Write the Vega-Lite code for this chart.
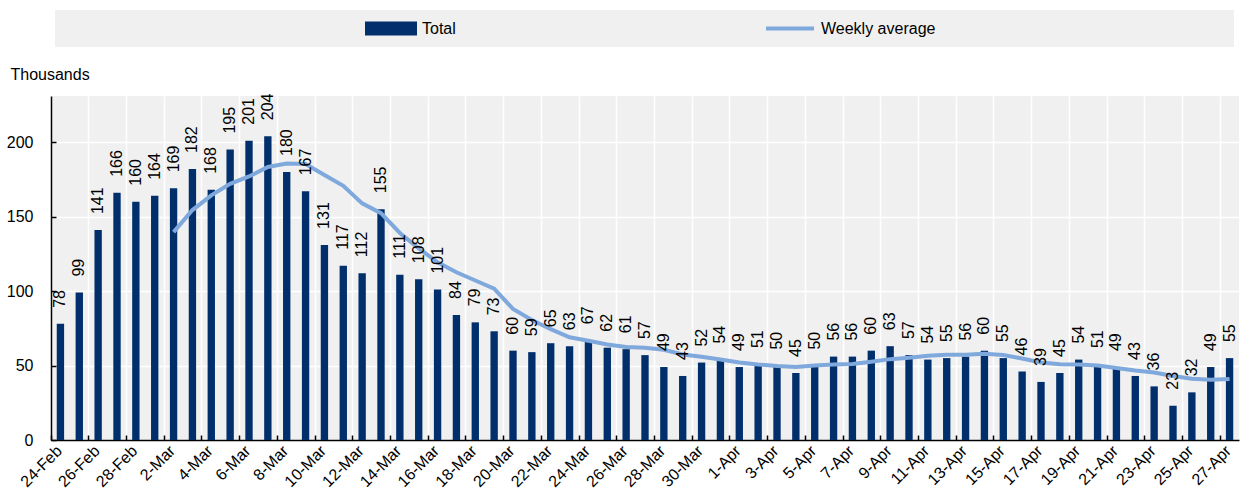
{
  "$schema": "https://vega.github.io/schema/vega-lite/v6.json",
  "width": 1188,
  "height": 344,
  "autosize": {"type": "none"},
  "padding": {"left": 51, "top": 96, "right": 1, "bottom": 53},
  "background": "white",
  "config": {
    "font": "Liberation Sans, Arial, sans-serif",
    "view": {"fill": "#f0f0f0", "stroke": null},
    "axis": {
      "labelFont": "Liberation Sans, Arial, sans-serif",
      "labelFontSize": 16,
      "labelColor": "#000000",
      "titleFont": "Liberation Sans, Arial, sans-serif",
      "titleFontSize": 16,
      "titleFontWeight": "normal",
      "titleColor": "#000000",
      "domainColor": "#000000",
      "domainWidth": 1.5,
      "tickColor": "#000000",
      "tickWidth": 1.5,
      "gridColor": "#ffffff",
      "gridWidth": 1.5,
      "gridOpacity": 1
    },
    "legend": {
      "labelFont": "Liberation Sans, Arial, sans-serif",
      "labelFontSize": 16,
      "labelColor": "#000000"
    }
  },
  "data": {
    "values": [
      {"date": "24-Feb", "total": 78, "avg": null},
      {"date": "25-Feb", "total": 99, "avg": null},
      {"date": "26-Feb", "total": 141, "avg": null},
      {"date": "27-Feb", "total": 166, "avg": null},
      {"date": "28-Feb", "total": 160, "avg": null},
      {"date": "1-Mar", "total": 164, "avg": null},
      {"date": "2-Mar", "total": 169, "avg": 139.6},
      {"date": "3-Mar", "total": 182, "avg": 154.4},
      {"date": "4-Mar", "total": 168, "avg": 164.3},
      {"date": "5-Mar", "total": 195, "avg": 172.0},
      {"date": "6-Mar", "total": 201, "avg": 177.0},
      {"date": "7-Mar", "total": 204, "avg": 183.3},
      {"date": "8-Mar", "total": 180, "avg": 185.6},
      {"date": "9-Mar", "total": 167, "avg": 185.3},
      {"date": "10-Mar", "total": 131, "avg": 178.0},
      {"date": "11-Mar", "total": 117, "avg": 170.7},
      {"date": "12-Mar", "total": 112, "avg": 158.9},
      {"date": "13-Mar", "total": 155, "avg": 152.3},
      {"date": "14-Mar", "total": 111, "avg": 139.0},
      {"date": "15-Mar", "total": 108, "avg": 128.7},
      {"date": "16-Mar", "total": 101, "avg": 119.3},
      {"date": "17-Mar", "total": 84, "avg": 112.6},
      {"date": "18-Mar", "total": 79, "avg": 107.1},
      {"date": "19-Mar", "total": 73, "avg": 101.6},
      {"date": "20-Mar", "total": 60, "avg": 88.0},
      {"date": "21-Mar", "total": 59, "avg": 80.6},
      {"date": "22-Mar", "total": 65, "avg": 74.4},
      {"date": "23-Mar", "total": 63, "avg": 69.0},
      {"date": "24-Mar", "total": 67, "avg": 66.6},
      {"date": "25-Mar", "total": 62, "avg": 64.1},
      {"date": "26-Mar", "total": 61, "avg": 62.4},
      {"date": "27-Mar", "total": 57, "avg": 62.0},
      {"date": "28-Mar", "total": 49, "avg": 60.6},
      {"date": "29-Mar", "total": 43, "avg": 57.4},
      {"date": "30-Mar", "total": 52, "avg": 55.9},
      {"date": "31-Mar", "total": 54, "avg": 54.0},
      {"date": "1-Apr", "total": 49, "avg": 52.1},
      {"date": "2-Apr", "total": 51, "avg": 50.7},
      {"date": "3-Apr", "total": 50, "avg": 49.7},
      {"date": "4-Apr", "total": 45, "avg": 49.1},
      {"date": "5-Apr", "total": 50, "avg": 50.1},
      {"date": "6-Apr", "total": 56, "avg": 50.7},
      {"date": "7-Apr", "total": 56, "avg": 51.0},
      {"date": "8-Apr", "total": 60, "avg": 52.6},
      {"date": "9-Apr", "total": 63, "avg": 54.3},
      {"date": "10-Apr", "total": 57, "avg": 55.3},
      {"date": "11-Apr", "total": 54, "avg": 56.6},
      {"date": "12-Apr", "total": 55, "avg": 57.3},
      {"date": "13-Apr", "total": 56, "avg": 57.3},
      {"date": "14-Apr", "total": 60, "avg": 57.9},
      {"date": "15-Apr", "total": 55, "avg": 57.1},
      {"date": "16-Apr", "total": 46, "avg": 54.7},
      {"date": "17-Apr", "total": 39, "avg": 52.1},
      {"date": "18-Apr", "total": 45, "avg": 50.9},
      {"date": "19-Apr", "total": 54, "avg": 50.7},
      {"date": "20-Apr", "total": 51, "avg": 50.0},
      {"date": "21-Apr", "total": 49, "avg": 48.4},
      {"date": "22-Apr", "total": 43, "avg": 46.7},
      {"date": "23-Apr", "total": 36, "avg": 45.3},
      {"date": "24-Apr", "total": 23, "avg": 43.0},
      {"date": "25-Apr", "total": 32, "avg": 41.1},
      {"date": "26-Apr", "total": 49, "avg": 40.4},
      {"date": "27-Apr", "total": 55, "avg": 41.0}
    ]
  },
  "encoding": {
    "x": {
      "field": "date",
      "type": "ordinal",
      "sort": null,
      "scale": {"paddingInner": 0, "paddingOuter": 0},
      "axis": {
        "title": null,
        "values": ["24-Feb","26-Feb","28-Feb","2-Mar","4-Mar","6-Mar","8-Mar","10-Mar","12-Mar","14-Mar","16-Mar","18-Mar","20-Mar","22-Mar","24-Mar","26-Mar","28-Mar","30-Mar","1-Apr","3-Apr","5-Apr","7-Apr","9-Apr","11-Apr","13-Apr","15-Apr","17-Apr","19-Apr","21-Apr","23-Apr","25-Apr","27-Apr"],
        "bandPosition": 0,
        "tickSize": -5,
        "labelAngle": -45,
        "labelAlign": "right",
        "labelBaseline": "middle",
        "labelOffset": -1,
        "labelPadding": 13,
        "grid": true,
        "zindex": 0
      }
    }
  },
  "layer": [
    {
      "mark": {"type": "bar", "width": {"band": 0.39}, "color": "#002F6C"},
      "encoding": {
        "y": {
          "field": "total",
          "type": "quantitative",
          "scale": {"domain": [0, 231], "nice": false},
          "axis": {
            "title": "Thousands",
            "titleAngle": 0,
            "titleAlign": "left",
            "titleBaseline": "alphabetic",
            "titleX": -41,
            "titleY": -17,
            "values": [0, 50, 100, 150, 200],
            "tickSize": -5,
            "labelPadding": 23,
            "grid": true,
            "zindex": 0
          }
        },
        "color": {
          "datum": "Total",
          "type": "nominal",
          "scale": {"domain": ["Total", "Weekly average"], "range": ["#002F6C", "#7FA8DC"]},
          "legend": {
            "title": null,
            "orient": "none",
            "legendX": 4,
            "legendY": -86,
            "direction": "horizontal",
            "columns": 2,
            "padding": 10,
            "fillColor": "#f0f0f0",
            "symbolSize": 2304,
            "symbolOffset": 300,
            "labelOffset": 5,
            "clipHeight": 17,
            "columnPadding": 8,
            "labelLimit": 500,
            "labelExpr": "datum.value === 'Weekly average' ? datum.label + '\u2800\u2800\u2800\u2800\u2800\u2800\u2800\u2800\u2800\u2800\u2800\u2800\u2800\u2800\u2800\u2800\u2800\u2800\u2800\u2800\u2800\u2800\u2800\u2800' : datum.label",
            "encode": {
              "symbols": {
                "update": {
                  "shape": {"signal": "datum.value === 'Total' ? 'M-1,-0.21H1V0.21H-1Z' : 'stroke'"},
                  "fill": {"signal": "datum.value === 'Total' ? '#002F6C' : 'transparent'"},
                  "stroke": {"signal": "datum.value === 'Total' ? 'transparent' : '#7FA8DC'"},
                  "strokeWidth": {"value": 4},
                  "opacity": {"value": 1}
                }
              }
            }
          }
        }
      }
    },
    {
      "mark": {"type": "line", "strokeWidth": 4, "color": "#7FA8DC"},
      "encoding": {
        "y": {"field": "avg", "type": "quantitative"},
        "color": {"datum": "Weekly average", "type": "nominal"}
      }
    },
    {
      "mark": {"type": "text", "angle": 270, "align": "left", "baseline": "middle", "dx": 16, "fontSize": 16, "color": "#000000"},
      "encoding": {
        "y": {"field": "total", "type": "quantitative"},
        "text": {"field": "total", "type": "quantitative"}
      }
    }
  ]
}
